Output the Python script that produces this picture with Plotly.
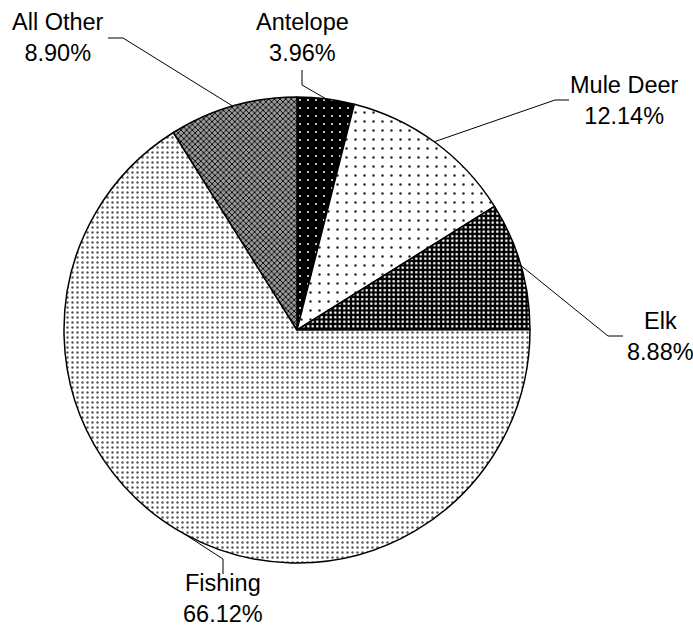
import math
import plotly.graph_objects as go

# ---- data ----
categories = ["Antelope", "Mule Deer", "Elk", "Fishing", "All Other"]
shares = [3.96, 12.14, 8.88, 66.12, 8.90]
pct_labels = ["3.96%", "12.14%", "8.88%", "66.12%", "8.90%"]

# ---- style ----
W, H = 693, 630
CX, CY, R = 297, 330, 233          # pie centre / radius in pixels
FONT = "Liberation Sans, Arial, sans-serif"

pattern_shape = [".", ".", ".", ".", "x"]
pattern_fg = ["white", "#222222", "white", "#555555", "black"]
pattern_bg = ["black", "white", "black", "white", "#999999"]
pattern_size = [8, 9, 4.5, 5, 4]
pattern_solid = [0.05, 0.06, 0.25, 0.18, 0.4]

# label placement (pixels): text centre, elbow point, end point of leader
label_pos = {
    "Antelope": ((302, 37), (302, 85), (302, 70)),
    "Mule Deer": ((624, 100), (555, 100), (569, 100)),
    "Elk": ((660, 336), (608, 336), (623, 336)),
    "Fishing": ((223, 598), (223, 559), (223, 574)),
    "All Other": ((58, 37), (123, 38), (108, 38)),
}


def px(x):
    return x / W


def py(y):
    return 1 - y / H


fig = go.Figure(
    go.Pie(
        labels=categories,
        values=shares,
        sort=False,
        direction="clockwise",
        rotation=0,
        textinfo="none",
        hoverinfo="label+percent",
        showlegend=False,
        marker=dict(
            colors=pattern_bg,
            line=dict(color="black", width=1.5),
            pattern=dict(
                shape=pattern_shape,
                fgcolor=pattern_fg,
                bgcolor=pattern_bg,
                size=pattern_size,
                solidity=pattern_solid,
                fillmode="replace",
            ),
        ),
        domain=dict(x=[px(CX - R), px(CX + R)], y=[py(CY + R), py(CY - R)]),
    )
)

total = sum(shares)
cum = 0.0
annotations = []
shapes = []
for cat, val, pl in zip(categories, shares, pct_labels):
    mid = (cum + val / 2) / total * 2 * math.pi
    cum += val
    ex = CX + R * math.sin(mid)
    ey = CY - R * math.cos(mid)
    (tx, ty), (bx, by), (lx, ly) = label_pos[cat]
    shapes.append(
        dict(
            type="path",
            xref="paper",
            yref="paper",
            path=f"M {px(ex)},{py(ey)} L {px(bx)},{py(by)} L {px(lx)},{py(ly)}",
            line=dict(color="black", width=1),
        )
    )
    annotations.append(
        dict(
            x=px(tx),
            y=py(ty),
            xref="paper",
            yref="paper",
            text=f"{cat}<br>{pl}",
            showarrow=False,
            xanchor="center",
            yanchor="middle",
            align="center",
            font=dict(family=FONT, size=23.5, color="black"),
        )
    )

fig.update_layout(
    width=W,
    height=H,
    margin=dict(l=0, r=0, t=0, b=0),
    paper_bgcolor="white",
    plot_bgcolor="white",
    font=dict(family=FONT, color="black"),
    annotations=annotations,
    shapes=shapes,
)

fig.write_html(
    "out.html",
    config={"displayModeBar": False},
    post_script="document.body.style.margin='0';document.body.style.overflow='hidden';",
)
